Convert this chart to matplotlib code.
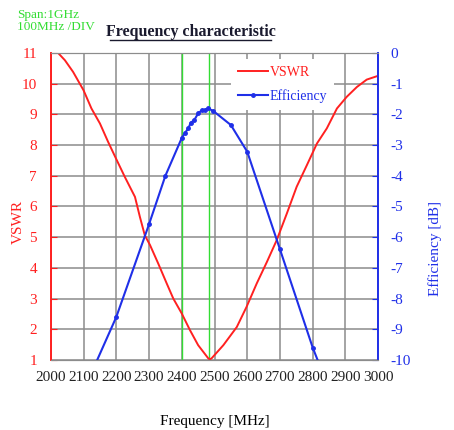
import matplotlib
matplotlib.use('Agg')
import matplotlib.pyplot as plt
from matplotlib.lines import Line2D

plt.rcParams['font.family'] = ['Liberation Serif', 'DejaVu Serif']
plt.rcParams['axes.unicode_minus'] = False

# VSWR curve
vswr_freq = [2000, 2022, 2043, 2068, 2100, 2124, 2150, 2175, 2199, 2226, 2257,
             2272, 2287, 2303, 2328, 2354, 2374, 2400, 2425, 2450, 2481, 2486,
             2491, 2527, 2568, 2598, 2629, 2660, 2690, 2721, 2751, 2782, 2813,
             2843, 2874, 2904, 2935, 2965, 2996, 3000]
vswr = [11.4, 11.0, 10.76, 10.38, 9.78, 9.19, 8.70, 8.10, 7.56, 6.96, 6.31,
        5.66, 5.06, 4.74, 4.14, 3.49, 3.00, 2.51, 1.97, 1.48, 1.05, 1.02,
        1.05, 1.48, 2.07, 2.73, 3.49, 4.19, 4.90, 5.77, 6.64, 7.34, 8.05,
        8.54, 9.19, 9.57, 9.89, 10.13, 10.24, 10.25]

# Efficiency measurement points
eff_freq = [2100, 2200, 2300, 2350, 2400, 2410, 2420, 2427, 2438, 2450, 2461,
            2470, 2481, 2496, 2550, 2600, 2700, 2800, 2900]
eff_db = [-11.0, -8.6, -5.58, -4.0, -2.77, -2.6, -2.46, -2.28, -2.19, -1.97,
          -1.87, -1.86, -1.81, -1.89, -2.35, -3.22, -6.4, -9.6, -12.3]

band_edges = [2400, 2483.5]
freq_ticks = list(range(2000, 3001, 100))
vswr_ticks = list(range(1, 12))
eff_ticks = list(range(-10, 1))

red = '#ff2020'
blue = '#1f2fe8'
green = '#33dd33'

fig = plt.figure(figsize=(4.54, 4.30), dpi=100)
ax1 = fig.add_axes([0.112, 0.163, 0.721, 0.714])
ax2 = ax1.twinx()

ax1.set_xlim(2000, 3000)
ax1.set_ylim(1, 11)
ax2.set_ylim(-10, 0)
ax1.set_xticks(freq_ticks)
ax1.set_yticks(vswr_ticks)
ax2.set_yticks(eff_ticks)

ax1.grid(True, color='#8c8c8c', linewidth=1.1)
ax1.set_axisbelow(True)
for x in band_edges:
    ax1.axvline(x, color=green, linewidth=1.0, zorder=1.5)

l1, = ax1.plot(vswr_freq, vswr, color=red, linewidth=1.4, label='VSWR')
l2, = ax2.plot(eff_freq, eff_db, color=blue, linewidth=1.5, marker='o',
               markersize=2.5, label='Efficiency')

for ax in (ax1, ax2):
    ax.spines['top'].set_color('#8c8c8c')
    ax.spines['bottom'].set_color('#8c8c8c')
    ax.spines['left'].set_color(red)
    ax.spines['right'].set_color(blue)
    ax.spines['left'].set_linewidth(1.2)
    ax.spines['right'].set_linewidth(1.2)

ax1.tick_params(axis='y', colors=red, labelcolor=red, direction='in',
                length=4, labelsize=11, pad=10)
ax2.tick_params(axis='y', colors=blue, labelcolor=blue, direction='in',
                length=4, labelsize=11, pad=9)
ax1.tick_params(axis='x', length=0, labelsize=11, pad=8, labelcolor='#222222')

ax1.set_ylabel('VSWR', color=red, fontsize=11)
ax1.yaxis.set_label_coords(-0.08, 0.449)
ax2.set_ylabel('Efficiency [dB]', color=blue, fontsize=11)
ax2.yaxis.set_label_coords(1.153, 0.364)
ax1.set_xlabel('Frequency [MHz]', fontsize=11, labelpad=22)

leg = ax2.legend(handles=[l1, l2], loc='upper left',
                 bbox_to_anchor=(0.55, 0.98), frameon=True, fancybox=False,
                 edgecolor='none', facecolor='white', framealpha=1,
                 labelcolor='linecolor', fontsize=10, handlelength=2.15,
                 handletextpad=0.15, labelspacing=0.75, borderpad=0.5,
                 borderaxespad=0)

fig.text(0.037, 0.965, 'Span:1GHz', color=green, fontsize=9.5, va='center')
fig.text(0.037, 0.937, '100MHz /DIV', color=green, fontsize=9.5, va='center')
fig.text(0.42, 0.925, 'Frequency characteristic', fontsize=11.5,
         fontweight='bold', ha='center', va='center', color='#1a1a2e')
fig.add_artist(Line2D([0.242, 0.598], [0.906, 0.906], color='#1a1a2e',
                      linewidth=1.0, transform=fig.transFigure))

fig.savefig('out.png', dpi=100)
